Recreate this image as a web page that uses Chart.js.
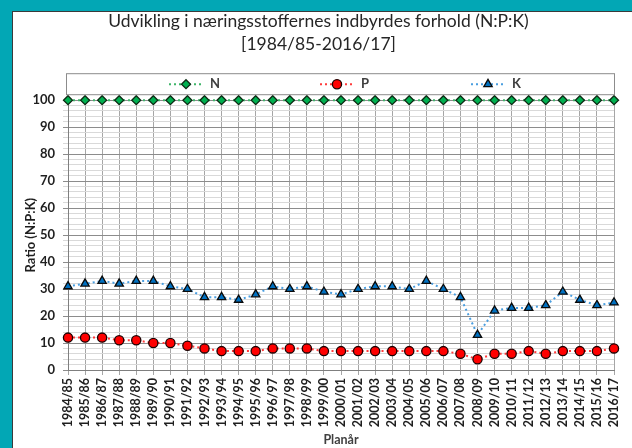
<!DOCTYPE html>
<html>
<head>
<meta charset="utf-8">
<script src="https://cdn.jsdelivr.net/npm/chart.js@4.4.1/dist/chart.umd.min.js"></script>
<style>
  html, body { margin: 0; padding: 0; }
  body { width: 632px; height: 448px; background: #02a7b5; position: relative; overflow: hidden; }
  #frame { position: absolute; left: 12px; top: 11px; right: 0; bottom: 0; background: #fff; border-left: 1px solid #3a3a3a; border-top: 1px solid #3a3a3a; }
  #myChart { position: absolute; left: 0; top: 0; }
</style>
</head>
<body>
<div id="frame"></div>
<canvas id="myChart" width="632" height="448"></canvas>
<script>
// planår
const labels = ['1984/85', '1985/86', '1986/87', '1987/88', '1988/89', '1989/90', '1990/91', '1991/92',
    '1992/93', '1993/94', '1994/95', '1995/96', '1996/97', '1997/98', '1998/99', '1999/00', '2000/01',
    '2001/02', '2002/03', '2003/04', '2004/05', '2005/06', '2006/07', '2007/08', '2008/09', '2009/10',
    '2010/11', '2011/12', '2012/13', '2013/14', '2014/15', '2015/16', '2016/17'];

const nValues = [100, 100, 100, 100, 100, 100, 100, 100, 100, 100, 100, 100, 100, 100, 100, 100, 100,
    100, 100, 100, 100, 100, 100, 100, 100, 100, 100, 100, 100, 100, 100, 100, 100];

const pValues = [12, 12, 12, 11, 11, 10, 10, 9, 8, 7, 7, 7, 8, 8, 8, 7, 7,
    7, 7, 7, 7, 7, 7, 6, 4, 6, 6, 7, 6, 7, 7, 7, 8];

const kValues = [31, 32, 33, 32, 33, 33, 31, 30, 27, 27, 26, 28, 31, 30, 31, 29, 28,
    30, 31, 31, 30, 33, 30, 27, 13, 22, 23, 23, 24, 29, 26, 24, 25];

const titleLines = ['Udvikling i næringsstoffernes indbyrdes forhold (N:P:K)', '[1984/85-2016/17]'];
const yTitle = 'Ratio (N:P:K)';
const xTitle = 'Planår';

const FONT = 'Lato, Carlito, Calibri, sans-serif';
const TXT = '#1f1f1f';

// legend box with line + marker, Excel style
const excelLegend = {
    id: 'excelLegend',
    afterDraw(chart) {
        const ctx = chart.ctx;
        const area = chart.chartArea;
        const top = area.top - 27, bottom = area.top - 6;
        const left = area.left - 2, right = area.right;
        ctx.save();
        ctx.strokeStyle = '#8c8c8c';
        ctx.lineWidth = 1;
        ctx.strokeRect(left + 0.5, top + 0.5, right - left, bottom - top);
        const mid = (left + right) / 2;
        const cy = (top + bottom) / 2 + 0.5;
        chart.data.datasets.forEach((ds, i) => {
            const mx = mid - 3 + (i - 1) * 151;
            ctx.strokeStyle = ds.borderColor;
            ctx.lineWidth = ds.borderWidth;
            ctx.setLineDash(ds.borderDash);
            ctx.beginPath();
            ctx.moveTo(mx - 17, cy);
            ctx.lineTo(mx + 17, cy);
            ctx.stroke();
            ctx.setLineDash([]);
            ctx.fillStyle = ds.pointBackgroundColor;
            ctx.strokeStyle = ds.pointBorderColor;
            ctx.lineWidth = ds.pointBorderWidth;
            Chart.helpers.drawPoint(ctx, {
                pointStyle: ds.pointStyle, rotation: 0,
                radius: ds.pointRadius, borderWidth: ds.pointBorderWidth
            }, mx, cy);
            ctx.fillStyle = '#404040';
            ctx.font = 'bold 13px ' + FONT;
            ctx.textBaseline = 'middle';
            ctx.textAlign = 'left';
            ctx.fillText(ds.label, mx + 24, cy);
        });
        ctx.restore();
    }
};

const data = {
    labels: labels,
    datasets: [{
        label: 'N',
        data: nValues,
        clip: false,
        borderColor: '#3fb56a',
        borderWidth: 2,
        borderDash: [2, 3],
        pointStyle: 'rectRot',
        pointRadius: 4.5,
        pointBackgroundColor: '#00b050',
        pointBorderColor: '#0d2a14',
        pointBorderWidth: 1.3
    }, {
        label: 'P',
        data: pValues,
        clip: false,
        borderColor: '#ff3b3b',
        borderWidth: 2,
        borderDash: [2, 3],
        pointStyle: 'circle',
        pointRadius: 4.6,
        pointBackgroundColor: '#ff0000',
        pointBorderColor: '#1a0000',
        pointBorderWidth: 1.3
    }, {
        label: 'K',
        data: kValues,
        clip: false,
        borderColor: '#4a9ee0',
        borderWidth: 2,
        borderDash: [2, 3],
        pointStyle: 'triangle',
        pointRadius: 4.8,
        pointBackgroundColor: '#0070c0',
        pointBorderColor: '#0a0a0a',
        pointBorderWidth: 1.3
    }]
};

const config = {
    type: 'line',
    data: data,
    options: {
        responsive: false,
        animation: false,
        layout: { padding: { left: 20, right: 15, top: 0, bottom: 0 } },
        plugins: {
            legend: { display: false },
            tooltip: { enabled: false },
            title: {
                display: true,
                text: titleLines,
                color: '#262626',
                font: { family: FONT, size: 17.5, weight: 'normal', lineHeight: 1.32 },
                padding: { top: 10, bottom: 44 }
            }
        },
        scales: {
            x: {
                offset: false,
                afterFit: function (s) { s.height = 78; },
                grid: { color: '#a6a6a6', lineWidth: 1, tickLength: 5, drawTicks: true },
                border: { color: '#7f7f7f' },
                ticks: {
                    autoSkip: false, minRotation: 90, maxRotation: 90, padding: 3,
                    color: TXT, font: { family: FONT, size: 12.5, weight: 'bold' }
                },
                title: {
                    display: true, text: xTitle, color: '#404040',
                    font: { family: FONT, size: 12.5, weight: 'bold', lineHeight: 1.2 },
                    padding: { top: 0, bottom: 1 }
                }
            },
            y: {
                min: 0, max: 100,
                afterFit: function (s) { s.width = 48; },
                grid: {
                    color: (c) => c.tick.value % 10 === 0 ? '#8c8c8c' : '#d9d9d9',
                    tickLength: 5
                },
                border: { color: '#7f7f7f' },
                ticks: {
                    stepSize: 2, autoSkip: false, maxTicksLimit: 60, padding: 8, color: TXT,
                    font: { family: FONT, size: 13, weight: 'bold' },
                    callback: (v) => v % 10 === 0 ? v : ''
                },
                title: {
                    display: true, text: yTitle, color: TXT,
                    font: { family: FONT, size: 13, weight: 'bold', lineHeight: 1.2 },
                    padding: { top: 3, bottom: 0 }
                }
            }
        }
    },
    plugins: [excelLegend]
};

const myChart = new Chart(
    document.getElementById('myChart'),
    config
);
</script>
</body>
</html>
